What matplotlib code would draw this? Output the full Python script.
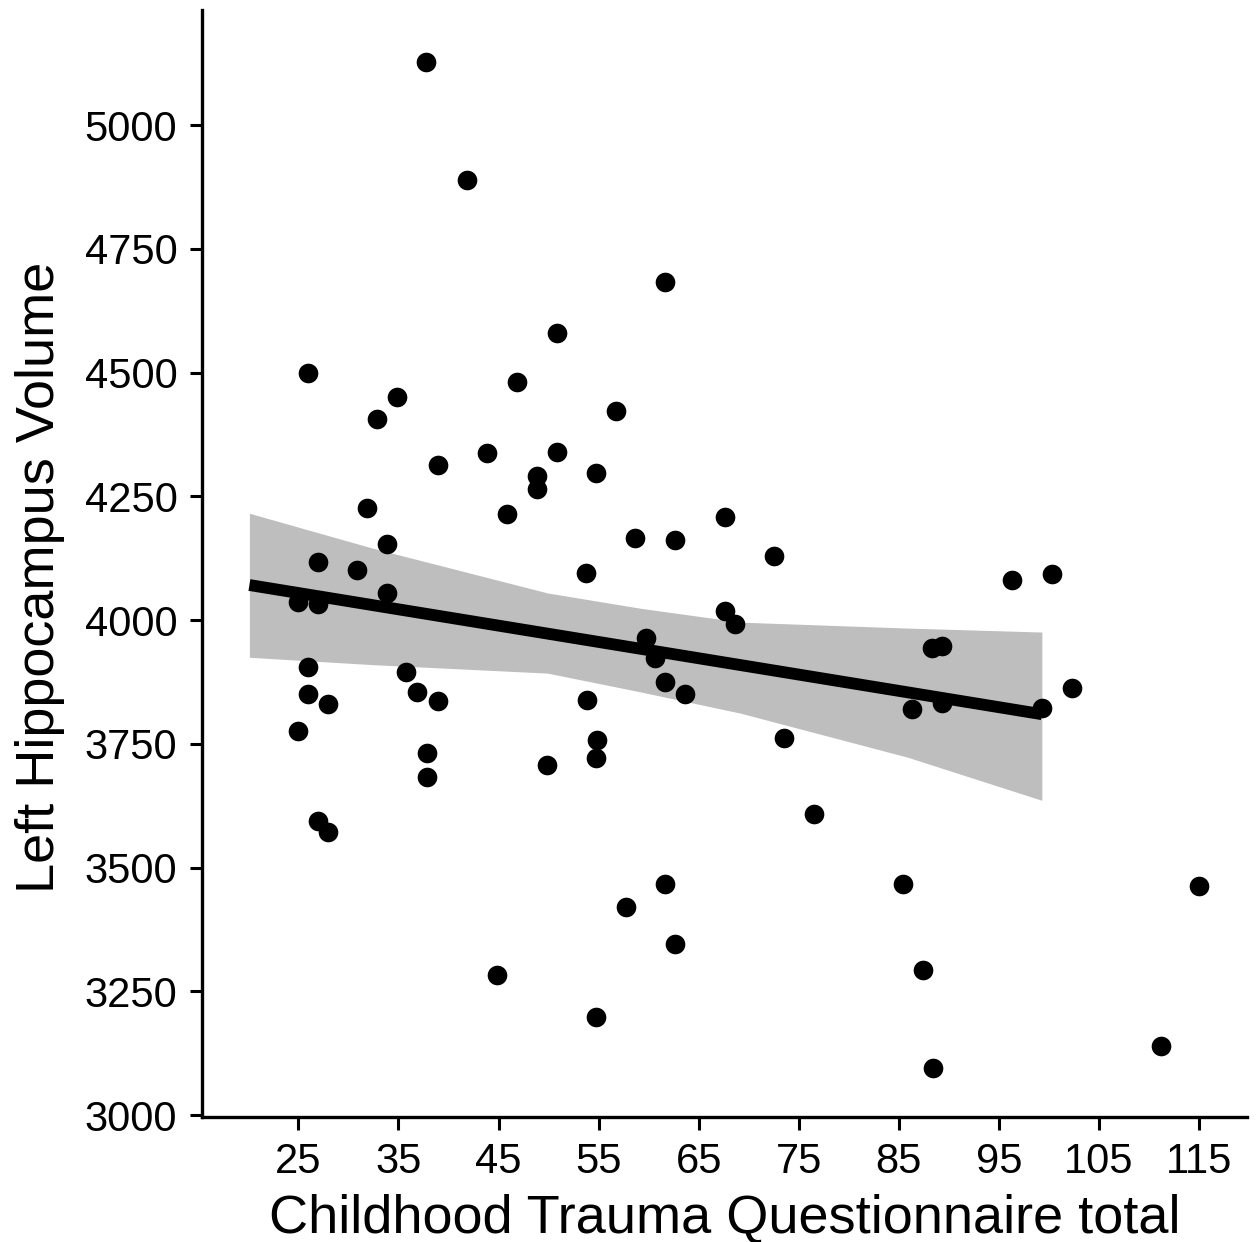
import matplotlib
matplotlib.use('Agg')
import matplotlib.pyplot as plt
import numpy as np

plt.rcParams['font.family'] = ['Liberation Sans', 'DejaVu Sans']

# CTQ total vs left hippocampus volume
ctq = [37.8, 41.8, 61.6, 50.8, 26.0, 46.8, 34.9, 56.7, 32.9, 43.8,
       50.8, 38.9, 48.8, 54.7, 48.8, 31.9, 45.8, 67.6, 58.6, 62.6,
       72.5, 33.9, 27.0, 30.9, 53.7, 96.3, 100.3, 33.9, 25.0, 27.0,
       67.6, 68.6, 59.7, 60.6, 89.3, 88.3, 26.0, 35.8, 61.6, 102.3,
       36.9, 26.0, 63.6, 53.8, 38.9, 28.0, 89.3, 99.3, 86.3, 25.0,
       73.5, 54.8, 37.9, 54.7, 49.8, 37.9, 27.0, 28.0, 76.5, 61.6,
       85.4, 115.0, 57.7, 62.6, 44.8, 87.4, 54.7, 111.2, 88.4]
volume = [5127, 4889, 4683, 4580, 4499, 4481, 4450, 4422, 4406, 4337,
          4339, 4313, 4291, 4297, 4265, 4226, 4214, 4208, 4166, 4162,
          4129, 4154, 4117, 4101, 4095, 4081, 4093, 4055, 4036, 4032,
          4018, 3992, 3964, 3923, 3947, 3943, 3905, 3895, 3875, 3863,
          3855, 3850, 3850, 3838, 3836, 3830, 3832, 3822, 3820, 3776,
          3762, 3758, 3731, 3721, 3707, 3683, 3594, 3572, 3608, 3467,
          3467, 3463, 3420, 3345, 3283, 3293, 3198, 3139, 3095]

# fitted line and 95% band
fit_x = [20.1, 99.3]
fit_y = [4071, 3810]
band_x = [20.1, 32.5, 49.9, 59.2, 69.2, 85.9, 99.3]
band_hi = [4216, 4145, 4055, 4024, 3996, 3984, 3976]
band_lo = [3925, 3910, 3893, 3855, 3812, 3723, 3636]

xticks = list(range(25, 116, 10))
yticks = list(range(3000, 5001, 250))

fig = plt.figure(figsize=(12.57, 12.42), dpi=100)
ax = fig.add_axes([0.161, 0.1006, 0.831, 0.891])

ax.fill_between(band_x, band_lo, band_hi, color='#bebebe', lw=0, zorder=1)
ax.scatter(ctq, volume, s=200, color='black', lw=0, zorder=2)
ax.plot(fit_x, fit_y, color='black', lw=8.5, solid_capstyle='butt', zorder=3)

ax.set_xlim(15.4, 119.8)
ax.set_ylim(2996, 5232)
ax.set_xticks(xticks)
ax.set_yticks(yticks)
ax.tick_params(labelsize=30, width=2.2, length=9, pad=9, colors='black')

for side in ['top', 'right']:
    ax.spines[side].set_visible(False)
for side in ['left', 'bottom']:
    ax.spines[side].set_linewidth(2.4)

ax.set_xlabel('Childhood Trauma Questionnaire total', fontsize=39, labelpad=8)
ax.set_ylabel('Left Hippocampus Volume', fontsize=39, va='center')
ax.yaxis.set_label_coords(-0.155, 0.488)

fig.savefig('out.png', dpi=100)
